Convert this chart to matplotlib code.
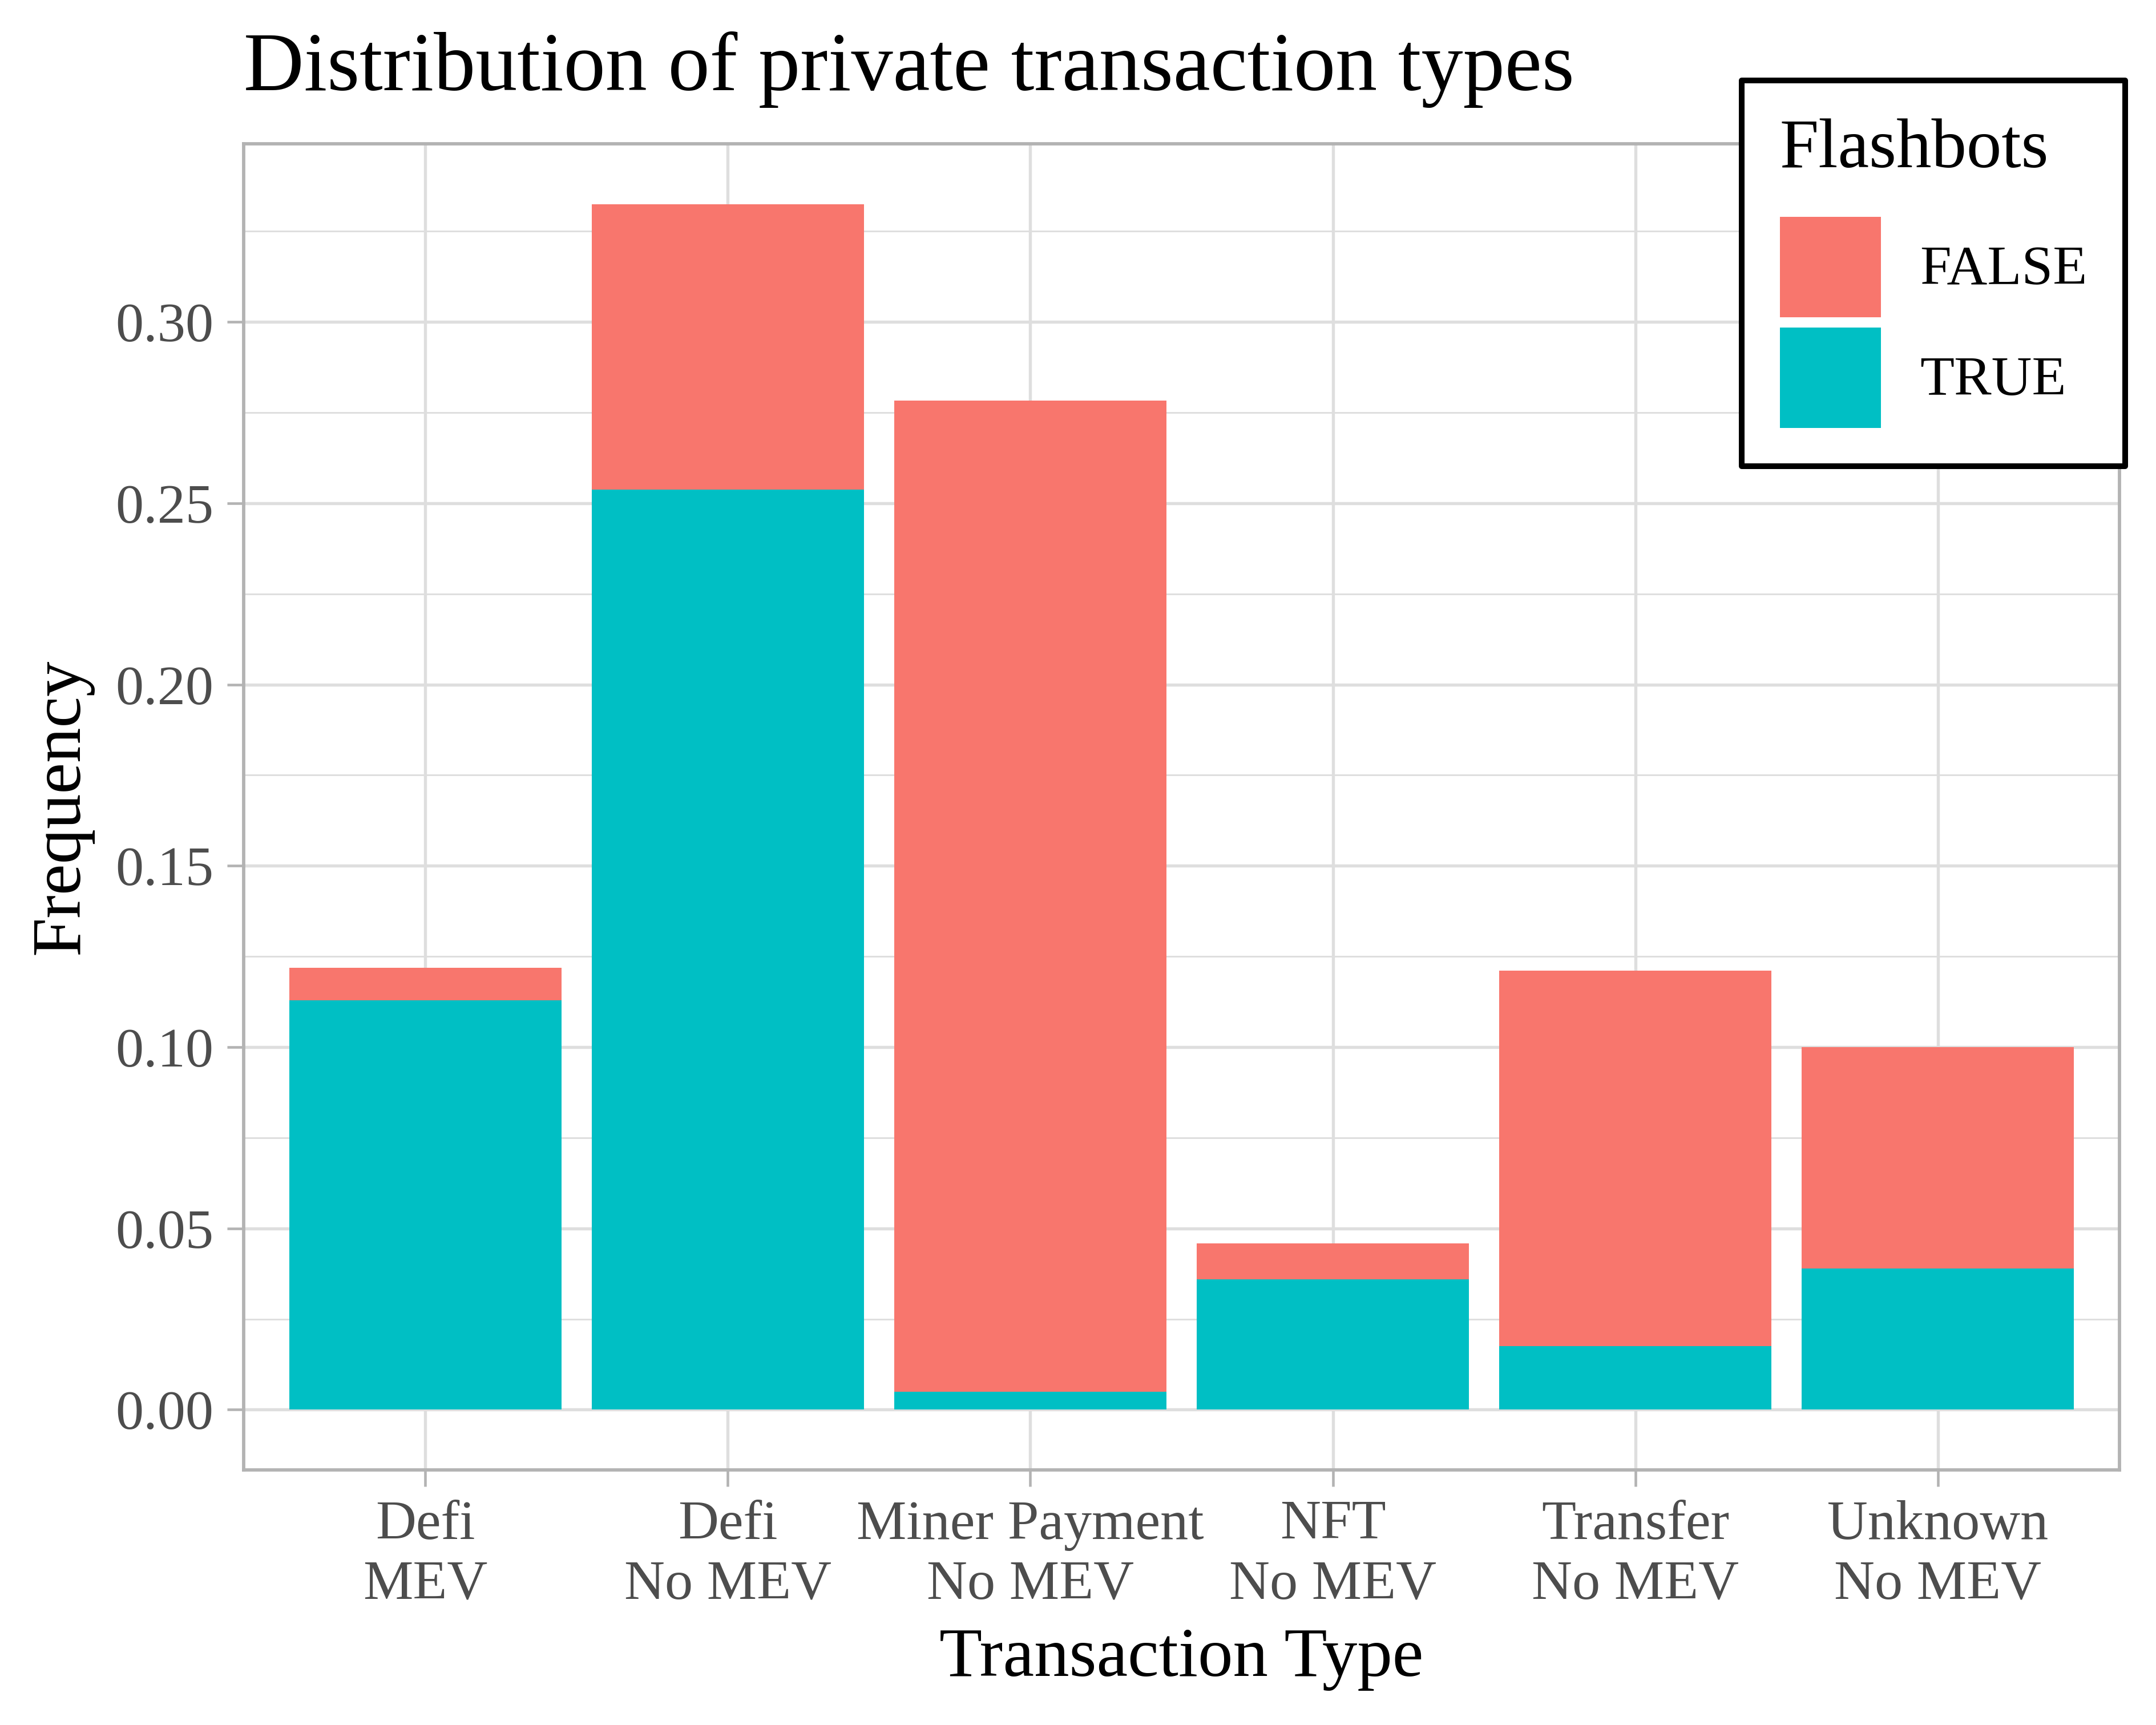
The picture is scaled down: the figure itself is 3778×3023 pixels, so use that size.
import matplotlib
matplotlib.use("Agg")
import matplotlib.pyplot as plt
from matplotlib.patches import Patch
import numpy as np

plt.rcParams['font.family'] = ['Liberation Serif', 'DejaVu Serif']

# data
categories = ["Defi\nMEV", "Defi\nNo MEV", "Miner Payment\nNo MEV",
              "NFT\nNo MEV", "Transfer\nNo MEV", "Unknown\nNo MEV"]
true_vals = [0.1129, 0.2538, 0.0049, 0.0359, 0.0175, 0.0389]
false_vals = [0.0089, 0.0787, 0.2734, 0.0099, 0.1036, 0.0611]
yticks = [0.00, 0.05, 0.10, 0.15, 0.20, 0.25, 0.30]
minor_ticks = [0.025, 0.075, 0.125, 0.175, 0.225, 0.275, 0.325]

red = "#F8766D"
teal = "#00BFC4"

W, H = 3779, 3023
small, mid, big = 23.6, 29.5, 35.1

fig = plt.figure(figsize=(W / 300, H / 300), dpi=300)
ax = fig.add_axes([427 / W, 1 - 2576 / H, (3714 - 427) / W, (2576 - 252) / H])

x = np.arange(1, len(categories) + 1)
ax.bar(x, true_vals, width=0.9, color=teal, zorder=3)
ax.bar(x, false_vals, width=0.9, bottom=true_vals, color=red, zorder=3)

totals = np.array(true_vals) + np.array(false_vals)
ymax = totals.max()
ax.set_xlim(0.4, len(categories) + 0.6)
ax.set_ylim(-0.05 * ymax, ymax * 1.05)

ax.set_xticks(x)
ax.set_xticklabels(categories)
ax.set_yticks(yticks)
ax.set_yticklabels(["%.2f" % v for v in yticks])
ax.set_yticks(minor_ticks, minor=True)

ax.grid(True, which="major", color="#DEDEDE", linewidth=1.3, zorder=0)
ax.grid(True, which="minor", axis="y", color="#DEDEDE", linewidth=0.7, zorder=0)
ax.set_axisbelow(True)
for s in ax.spines.values():
    s.set_color("#B3B3B3")
    s.set_linewidth(1.4)

ax.tick_params(axis="both", which="major", length=7, width=1.1, color="#B3B3B3",
               labelcolor="#4D4D4D", labelsize=small, pad=5.6)
ax.tick_params(axis="both", which="minor", length=0)
for t in ax.get_xticklabels():
    t.set_linespacing(1.23)

fig.text(427 / W, 1 - 158 / H, "Distribution of private transaction types",
         fontsize=big, ha="left", va="baseline")
fig.text((427 + 3714) / 2 / W, 1 - 2937 / H, "Transaction Type",
         fontsize=mid, ha="center", va="baseline")
fig.text(108 / W, 1 - 1414 / H, "Frequency", fontsize=mid, rotation=90,
         ha="center", va="center")

handles = [Patch(facecolor=red, edgecolor="none", label="FALSE"),
           Patch(facecolor=teal, edgecolor="none", label="TRUE")]
fs = small * 300 / 72
hh = (176 / fs - 0.245) / 0.65
leg = fig.legend(handles=handles, title="Flashbots", loc="upper left",
                 bbox_to_anchor=(3052 / W, 1 - 141 / H), fontsize=small,
                 title_fontsize=mid, alignment="left", frameon=True,
                 fancybox=False, edgecolor="black", framealpha=1,
                 handlelength=177 / fs, handleheight=hh,
                 labelspacing=18 / fs, handletextpad=68 / fs,
                 borderpad=0.68, borderaxespad=0)
leg.get_frame().set_linewidth(2.4)
leg.get_frame().set_joinstyle("round")
leg._legend_box.sep = 14.5

fig.savefig("out.png", dpi=300)
